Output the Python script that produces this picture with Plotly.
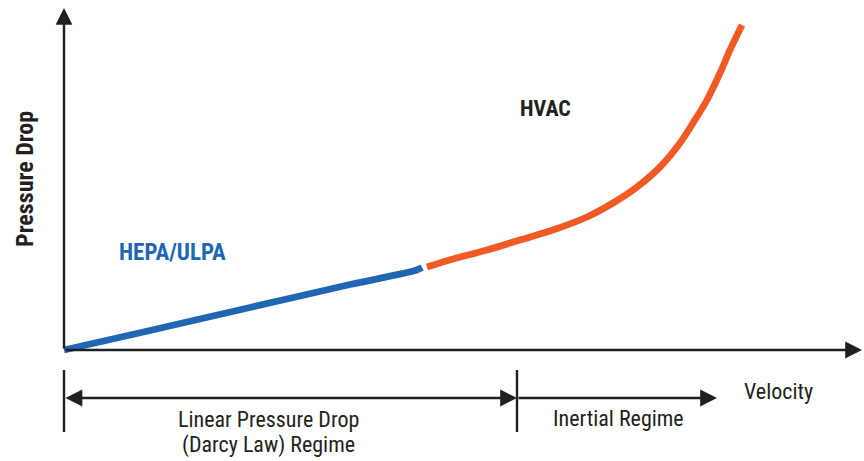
import plotly.graph_objects as go

# Data (velocity / pressure-drop in arbitrary units)
hepa_velocity = [0.0, 1.075, 2.325, 3.575, 4.40, 4.475]
hepa_pressure = [0.0, 0.570, 1.243, 1.915, 2.33, 2.41]
hvac_velocity = [4.5375, 4.8625, 5.2875, 5.70, 6.1125, 6.5375, 6.8625, 7.1625, 7.45, 7.70, 7.8625, 8.0375, 8.20, 8.325, 8.475]
hvac_pressure = [2.427, 2.661, 2.924, 3.216, 3.509, 3.889, 4.298, 4.766, 5.351, 6.053, 6.637, 7.310, 8.099, 8.772, 9.503]

x_axis_end = 9.975
y_axis_end = 10.0
regime_split = 5.6625
inertial_end = 8.1625

BLUE = "#2166B4"
ORANGE = "#F15A24"
INK = "#231F20"
NARROW = "Liberation Sans Narrow, Arial Narrow, Roboto Condensed, Liberation Sans, sans-serif"

fig = go.Figure()
fig.add_trace(go.Scatter(x=hepa_velocity, y=hepa_pressure, mode="lines",
                         line=dict(color=BLUE, width=6.8, shape="spline", smoothing=0.8),
                         showlegend=False, hoverinfo="skip"))
fig.add_trace(go.Scatter(x=hvac_velocity, y=hvac_pressure, mode="lines",
                         line=dict(color=ORANGE, width=6.8, shape="spline", smoothing=0.8),
                         showlegend=False, hoverinfo="skip"))

def arrow(x0, y0, x1, y1, side="end"):
    fig.add_annotation(x=x1, y=y1, ax=x0, ay=y0, xref="x", yref="y", axref="x", ayref="y",
                       text="", showarrow=True, arrowhead=2, arrowsize=1.4, arrowwidth=2.4,
                       arrowcolor=INK, arrowside=side, standoff=0, startstandoff=0)

# axes
arrow(0, 0, 0, y_axis_end)
arrow(0, 0, x_axis_end, 0)

# regime brackets
ybar = -1.4035
for xv in [0, regime_split]:
    fig.add_shape(type="line", x0=xv, x1=xv, y0=-0.585, y1=-2.398, xref="x", yref="y",
                  line=dict(color=INK, width=2.4))
arrow(0, ybar, regime_split, ybar, side="end+start")
arrow(regime_split, ybar, inertial_end, ybar)

def label(x, y, text, size=20, color=INK, bold=False, angle=0):
    fig.add_annotation(x=x, y=y, xref="x", yref="y", text=f"<b>{text}</b>" if bold else text,
                       showarrow=False, textangle=angle,
                       font=dict(family=NARROW, size=size, color=color))

label(2.55, -2.02, "Linear Pressure Drop", size=22)
label(2.55, -2.78, "(Darcy Law) Regime", size=22)
label(6.925, -1.99, "Inertial Regime", size=22)
label(8.925, -1.20, "Velocity", size=22)
label(-0.4875, 5.0, "Pressure Drop", size=24, bold=True, angle=-90)
label(1.35, 2.865, "HEPA/ULPA", size=23, color=BLUE, bold=True)
label(6.0125, 7.047, "HVAC", size=22, bold=True)

fig.update_xaxes(range=[-0.8, 10.0], visible=False, fixedrange=True)
fig.update_yaxes(range=[-111/34.2, 350/34.2], visible=False, fixedrange=True)
fig.update_layout(width=864, height=461, margin=dict(l=0, r=0, t=0, b=0),
                  plot_bgcolor="white", paper_bgcolor="white")

fig.write_html("out.html", post_script="document.body.style.margin='0';document.body.style.overflow='hidden';",
               config={"displayModeBar": False})
